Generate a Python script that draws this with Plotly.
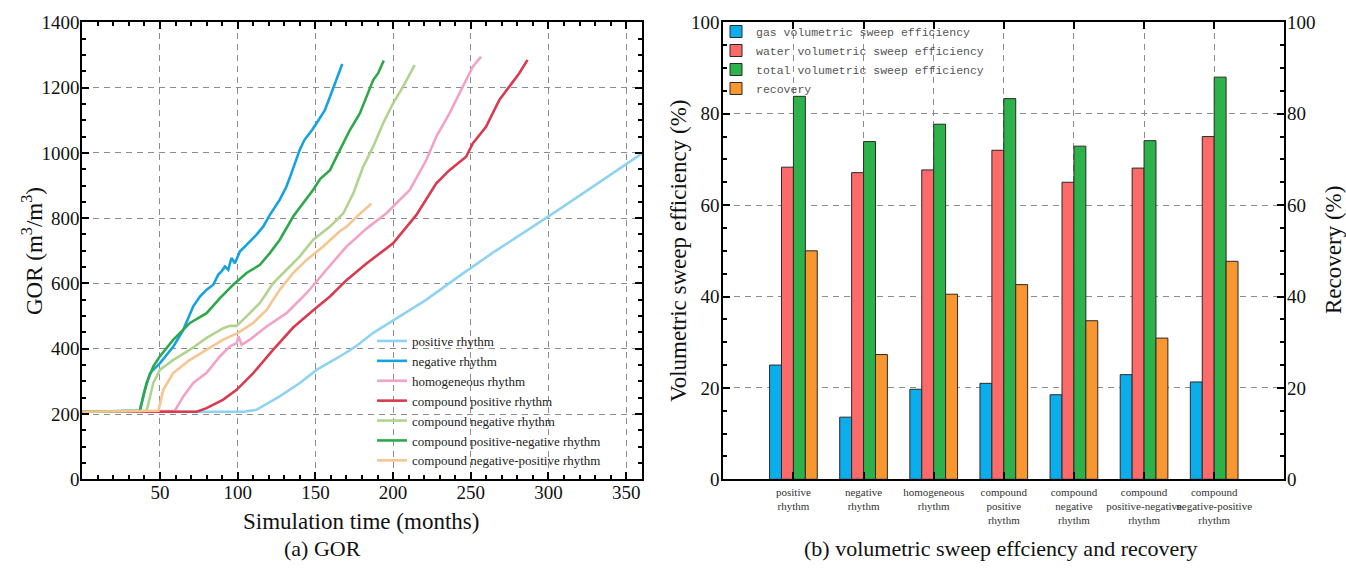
import plotly.graph_objects as go

# ---------------- (a) GOR data ----------------
t_pos = [0, 104, 112, 127, 140, 151, 166, 176, 187, 204, 221, 245, 266, 288, 300, 309, 326, 340, 350, 360]
g_pos = [207, 207, 213, 254, 295, 336, 377, 407, 448, 499, 549, 631, 700, 768, 805, 834, 888, 933, 965, 998]

t_neg = [0, 37, 40, 43.6, 50, 58.6, 65, 71.4, 75.7, 80, 84.3, 87.5, 89.6, 91.8, 93.9, 96, 98.2, 101.4,
         105.7, 112, 116.4, 120.7, 127, 131.4, 134.6, 138, 140, 143, 148, 152, 156, 159.4, 163, 167.3]
g_neg = [207, 210, 270, 325, 356, 407, 458, 530, 560, 581, 596, 627, 637, 652, 642, 678, 662, 698,
         718, 749, 774, 810, 856, 897, 938, 985, 1010, 1040, 1071, 1100, 1130, 1172, 1220, 1272]

t_hom = [0, 59.6, 65, 71.4, 80, 88.6, 95, 99.3, 100.6, 102.5, 107.9, 118.6, 131.4, 144.3, 157.1, 170,
         182.9, 195.7, 204.3, 210.7, 221.4, 227.8, 236.3, 244.9, 251.3, 256.6]
g_hom = [207, 210, 254, 295, 326, 377, 407, 417, 438, 412, 428, 468, 509, 570, 642, 713,
         768, 815, 856, 886, 978, 1050, 1121, 1203, 1264, 1295]

t_cpos = [0, 73.6, 80, 90.7, 99.3, 110, 122.9, 135.7, 148.6, 159.4, 170, 182.9, 200, 215, 227.8,
          236.3, 247, 251.3, 259.8, 268.4, 274.8, 281.2, 286.5]
g_cpos = [207, 207, 218, 244, 274, 325, 397, 465, 518, 560, 610, 661, 723, 810, 907,
          947, 988, 1029, 1080, 1162, 1203, 1244, 1285]

t_cneg = [0, 41.4, 45.7, 50, 58.6, 69.3, 80, 90.7, 95, 99.3, 105.7, 114.3, 122.9, 131.4, 140, 148.6,
          159.4, 168, 174.4, 180.8, 187.2, 193.6, 200, 206.4, 213.9]
g_cneg = [207, 210, 295, 336, 366, 397, 433, 463, 470, 470, 499, 540, 601, 642, 683, 734,
          774, 815, 876, 958, 1019, 1091, 1152, 1203, 1269]

t_cpn = [0, 37, 41.4, 45.7, 50, 58.6, 69.3, 80, 88.6, 97.1, 105.7, 114.3, 120.7, 127.1, 135.7, 142.1,
         148.6, 153, 159.4, 165.8, 172.2, 178.6, 184, 187.2, 190.4, 194]
g_cpn = [207, 210, 295, 346, 377, 428, 479, 509, 555, 596, 632, 657, 693, 734, 805, 846,
         887, 920, 947, 1009, 1070, 1121, 1183, 1223, 1244, 1283]

t_cnp = [0, 49, 52.1, 58.6, 69.3, 80, 90.7, 99.9, 110, 118.6, 127.1, 135.7, 144.3, 155, 165.7, 170.1, 176.5, 186.1]
g_cnp = [207, 210, 274, 326, 366, 397, 428, 448, 479, 519, 581, 632, 672, 713, 760, 774, 804, 845]

gor_names = ["positive rhythm", "negative rhythm", "homogeneous rhythm", "compound positive rhythm",
             "compound negative rhythm", "compound positive-negative rhythm", "compound negative-positive rhythm"]
gor_t = [t_pos, t_neg, t_hom, t_cpos, t_cneg, t_cpn, t_cnp]
gor_g = [g_pos, g_neg, g_hom, g_cpos, g_cneg, g_cpn, g_cnp]
gor_colors = ["#8fd3f2", "#16a2e0", "#f2a2c6", "#d93a4e", "#b0d48f", "#2fa84c", "#f6c590"]

x_ticks_a = [50, 100, 150, 200, 250, 300, 350]
y_ticks_a = [0, 200, 400, 600, 800, 1000, 1200, 1400]

# ---------------- (b) bar data ----------------
categories = ["positive<br>rhythm", "negative<br>rhythm", "homogeneous<br>rhythm",
              "compound<br>positive<br>rhythm", "compound<br>negative<br>rhythm",
              "compound<br>positive-negative<br>rhythm", "compound<br>negative-positive<br>rhythm"]
gas_eff = [25.0, 13.6, 19.7, 21.0, 18.5, 22.9, 21.3]
water_eff = [68.3, 67.1, 67.7, 72.0, 65.0, 68.1, 75.0]
total_eff = [83.8, 73.9, 77.7, 83.3, 72.9, 74.1, 88.0]
recovery = [50.0, 27.3, 40.5, 42.6, 34.7, 30.9, 47.7]
bar_names = ["gas volumetric sweep efficiency", "water volumetric sweep efficiency",
             "total volumetric sweep efficiency", "recovery"]
bar_colors = ["#0badea", "#fd6a6a", "#2db24b", "#f8962f"]

SERIF = "Liberation Serif, Times New Roman, serif"
MONO = "Liberation Mono, Courier New, monospace"

fig = go.Figure()

for name, tt, gg, col in zip(gor_names, gor_t, gor_g, gor_colors):
    fig.add_trace(go.Scatter(x=tt, y=gg, mode="lines", name=name,
                             line=dict(color=col, width=2.6),
                             xaxis="x", yaxis="y", legend="legend"))

pos = list(range(1, len(categories) + 1))
bw = 0.17
series = [gas_eff, water_eff, total_eff, recovery]
for i, (name, vals, col) in enumerate(zip(bar_names, series, bar_colors)):
    fig.add_trace(go.Bar(x=pos, y=vals, name=name, width=bw, offset=-2 * bw + i * bw,
                         marker=dict(color=col, line=dict(color="#2a2a2a", width=1)),
                         xaxis="x2", yaxis="y3" if i == 3 else "y2", legend="legend2"))

grid = dict(showgrid=True, gridcolor="#8c8c8c", griddash="6px,5px", gridwidth=1)
axline = dict(showline=True, linecolor="black", linewidth=2, ticks="inside", tickcolor="black",
              tickwidth=1.5, ticklen=7, zeroline=False, automargin=False)

Y0, Y1 = 1 - 479.3 / 572, 1 - 22.3 / 572

fig.update_layout(
    width=1346, height=572, margin=dict(l=0, r=0, t=0, b=0, pad=0, autoexpand=False),
    paper_bgcolor="white", plot_bgcolor="white",
    font=dict(family=SERIF, color="#111"),
    xaxis=dict(domain=[82.3 / 1346, 641.7 / 1346], range=[0, 360], tickvals=x_ticks_a,
               mirror="ticks", tickfont=dict(size=19, family=SERIF), ticklabelstandoff=-5,
               minor=dict(dtick=10, ticks="inside", ticklen=4, tickcolor="black", showgrid=False),
               anchor="y", **grid, **axline),
    yaxis=dict(domain=[Y0, Y1], range=[0, 1400], tickvals=y_ticks_a, mirror="ticks",
               tickfont=dict(size=19, family=SERIF), ticklabelstandoff=-3,
               minor=dict(dtick=50, ticks="inside", ticklen=4, tickcolor="black", showgrid=False),
               anchor="x", **grid, **axline),
    xaxis2=dict(domain=[723.3 / 1346, 1284.3 / 1346], range=[0, 8], tickvals=pos, ticktext=categories,
                tickangle=0, ticklabelstandoff=1, mirror="ticks",
                tickfont=dict(size=11, family=SERIF, color="#333"),
                anchor="y2", **grid, **axline),
    yaxis2=dict(domain=[Y0, Y1], range=[0, 100], dtick=20, tickfont=dict(size=19, family=SERIF),
                ticklabelstandoff=-2,
                minor=dict(dtick=5, ticks="inside", ticklen=4, tickcolor="black", showgrid=False),
                anchor="x2", **grid, **axline),
    yaxis3=dict(range=[0, 100], dtick=20, overlaying="y2", side="right", anchor="x2",
                tickfont=dict(size=19, family=SERIF), showgrid=False, ticklabelstandoff=-3,
                minor=dict(dtick=5, ticks="inside", ticklen=4, tickcolor="black", showgrid=False),
                **axline),
    legend=dict(x=372 / 1346, y=1 - 401 / 572, xanchor="left", yanchor="middle",
                bgcolor="rgba(0,0,0,0)", font=dict(size=13, family=SERIF, color="#222"),
                itemwidth=30, tracegroupgap=0),
    legend2=dict(x=716 / 1346, y=1 - 17 / 572, xanchor="left", yanchor="top",
                 bgcolor="rgba(0,0,0,0)", font=dict(size=11.5, family=MONO, color="#555"),
                 itemwidth=30, tracegroupgap=0),
    barmode="overlay",
    showlegend=True,
)

annos = [
    dict(text="GOR (m<sup>3</sup>/m<sup>3</sup>)", x=33 / 1346, y=1 - 251 / 572, textangle=-90, size=23),
    dict(text="Simulation time (months)", x=361 / 1346, y=1 - 521 / 572, textangle=0, size=23),
    dict(text="Volumetric sweep efficiency (%)", x=679 / 1346, y=1 - 251 / 572, textangle=-90, size=23),
    dict(text="Recovery (%)", x=1333 / 1346, y=1 - 250 / 572, textangle=-90, size=23),
    dict(text="(a) GOR", x=322 / 1346, y=1 - 548 / 572, textangle=0, size=22),
    dict(text="(b) volumetric sweep effciency and recovery", x=1001 / 1346, y=1 - 548 / 572, textangle=0, size=22),
]
for a in annos:
    fig.add_annotation(text=a["text"], x=a["x"], y=a["y"], xref="paper", yref="paper",
                       xanchor="center", yanchor="middle", textangle=a["textangle"],
                       showarrow=False, font=dict(family=SERIF, size=a["size"], color="#111"))

fig.write_html("out.html")
